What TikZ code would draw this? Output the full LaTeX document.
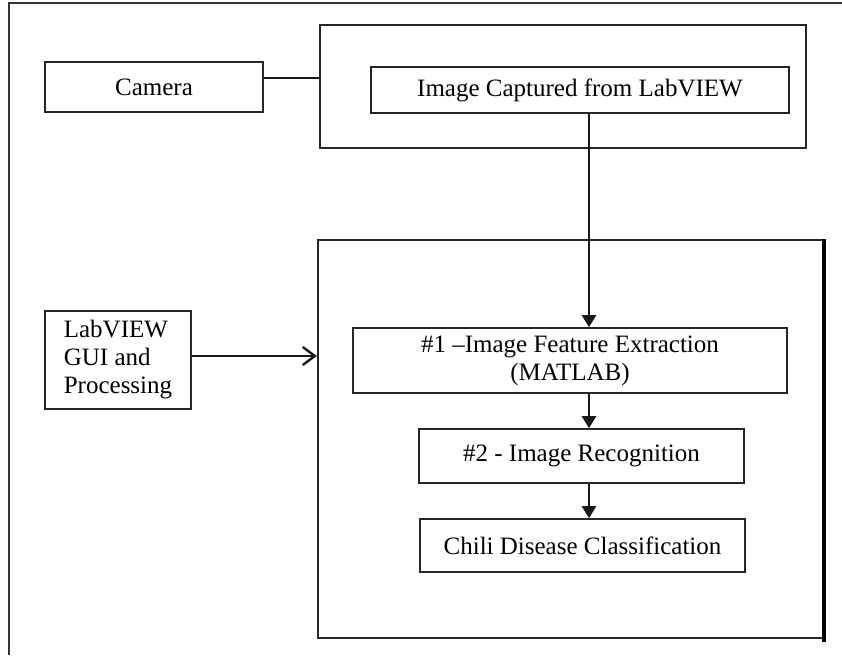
\documentclass[tikz,border=0pt]{standalone}
\usepackage{fontspec}
\setmainfont{Liberation Serif}
\usetikzlibrary{arrows.meta}

\tikzset{
  blk/.style={draw=black!85, line width=0.8pt, inner sep=0pt, align=center,
    font=\fontsize{12.5}{14}\selectfont},
  grp/.style={draw=black!85, line width=1.2pt, inner sep=0pt},
  link/.style={draw=black!90, line width=1.2pt},
  flow/.style={link, -{Triangle[length=6pt,width=7pt]}},
}

\begin{document}
\begin{tikzpicture}[x=0.5pt, y=-0.5pt]
\useasboundingbox (0,0) rectangle (842,655);
% page frame
\draw[black!80, line width=0.75pt] (9,655) -- (9,3) -- (842,3);

% groups
\node[grp, minimum width=243pt, minimum height=61.5pt] (grabgrp) at (563,86.5) {};
\node[grp, minimum width=252.5pt, minimum height=199pt] (procgrp) at (570.5,439) {};
\draw[black, line width=2pt] (procgrp.north east) -- ([yshift=-1.5pt]procgrp.south east);

% blocks
\node[blk, minimum width=109pt, minimum height=25pt] (camera) at (154,87) {Camera};
\node[blk, minimum width=209pt, minimum height=23pt] (capture) at (580,90) {Image Captured from LabVIEW};
\node[blk, align=left, minimum width=73pt, minimum height=49pt] (gui) at (118,360) {LabVIEW\\GUI and\\Processing};
\node[blk, minimum width=217pt, minimum height=32.5pt] (feat) at (570,360.5) {\#1 --Image Feature Extraction\\(MATLAB)};
\node[blk, minimum width=162.5pt, minimum height=27pt] (recog) at (581.5,456) {\#2 - Image Recognition};
\node[blk, minimum width=162.5pt, minimum height=26.5pt] (chili) at (582.5,545.5) {Chili Disease Classification};

% connectors
\coordinate (camlink) at (0,78);
\coordinate (guilink) at (0,356);
\coordinate (flowx) at (589,0);
\draw[link] (camera.east |- camlink) -- (grabgrp.west |- camlink);
\draw[flow] (capture.south -| flowx) -- (feat.north -| flowx);
\draw[flow] (feat.south -| flowx) -- (recog.north -| flowx);
\draw[flow] (recog.south -| flowx) -- (chili.north -| flowx);
\draw[link, -{Straight Barb[length=6pt,width=9pt]}] (gui.east |- guilink) -- (procgrp.west |- guilink);
\end{tikzpicture}
\end{document}
